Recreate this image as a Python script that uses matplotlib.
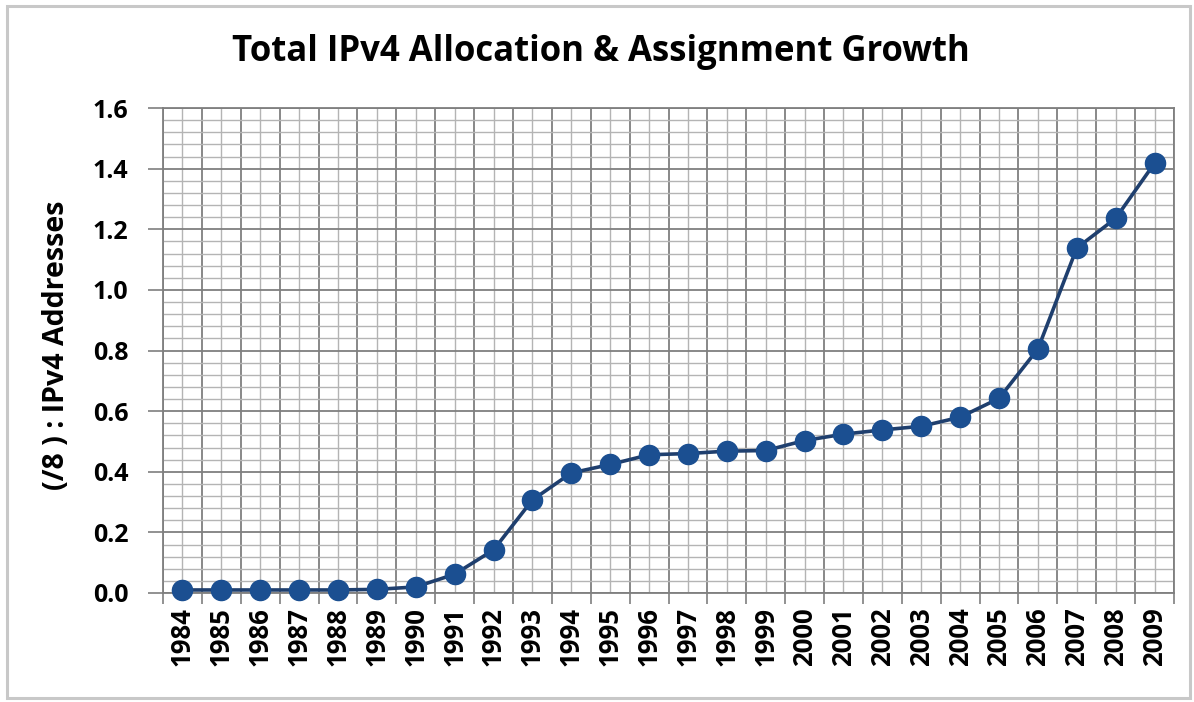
import matplotlib
matplotlib.use("Agg")
import matplotlib.pyplot as plt
from matplotlib.patches import Rectangle
from matplotlib.ticker import MultipleLocator, FixedLocator
import numpy as np

years = [str(y) for y in range(1984, 2010)]
values = [0.01, 0.01, 0.01, 0.01, 0.01, 0.012, 0.02, 0.062, 0.142, 0.307,
          0.396, 0.424, 0.456, 0.460, 0.468, 0.470, 0.503, 0.524, 0.538, 0.550,
          0.580, 0.642, 0.805, 1.138, 1.236, 1.418]
title = "Total IPv4 Allocation & Assignment Growth"
ylabel = "(/8 ) : IPv4 Addresses"

FONT = "Open Sans"
W, H = 1194, 702
fig = plt.figure(figsize=(W / 100, H / 100), dpi=100)
fig.patch.set_facecolor("white")

# outer chart border
fig.patches.append(Rectangle((7 / W, 4 / H), (1190 - 7) / W, (696 - 4) / H,
                             transform=fig.transFigure, fill=False,
                             edgecolor="#c8c8c8", linewidth=2.2))

left, right, top, bottom = 163, 1174, 108, 593
ax = fig.add_axes([left / W, 1 - bottom / H, (right - left) / W, (bottom - top) / H])

x = np.arange(len(years))
ax.set_xlim(-0.5, len(years) - 0.5)
ax.set_ylim(0, 1.6)

# grid: major x at category boundaries, minor x at centres
ax.xaxis.set_major_locator(FixedLocator(np.arange(-0.5, len(years), 1.0)))
ax.xaxis.set_minor_locator(FixedLocator(x))
ax.yaxis.set_major_locator(MultipleLocator(0.2))
ax.yaxis.set_minor_locator(MultipleLocator(0.04))
ax.grid(which="major", color="#7f7f7f", linewidth=1.3)
ax.grid(which="minor", color="#b4b4b4", linewidth=1.0)
ax.set_axisbelow(True)

ax.set_xticklabels([])
ax.set_xticks(x, minor=True)
ax.set_xticklabels(years, minor=True, rotation=90, fontsize=18.5, fontweight="bold",
                   family=FONT)
ax.tick_params(axis="x", which="minor", length=0, pad=10)
ax.tick_params(axis="x", which="major", length=8, width=1.2, color="#7f7f7f")
ax.set_yticks(np.arange(0, 1.61, 0.2))
ax.set_yticklabels(["%.1f" % v for v in np.arange(0, 1.61, 0.2)], fontsize=18,
                   fontweight="bold", family=FONT)
ax.tick_params(axis="y", which="major", length=11, width=1.2, color="#7f7f7f", pad=14)
ax.tick_params(axis="y", which="minor", length=0)

for s in ax.spines.values():
    s.set_color("#7f7f7f")
    s.set_linewidth(1.3)

ax.plot(x, values, color="#1f3f6e", linewidth=2.6, marker="o", markersize=14.5,
        markerfacecolor="#1b4f91", markeredgecolor="#1b4f91", zorder=3,
        clip_on=False)

fig.text(601 / W, 1 - 52 / H, title, ha="center", va="center",
         fontsize=25, fontweight="bold", family=FONT)
fig.text(57 / W, 1 - 345 / H, ylabel, ha="center", va="center", rotation=90,
         fontsize=20.5, fontweight="bold", family=FONT)

fig.savefig("out.png", dpi=100, facecolor="white")
